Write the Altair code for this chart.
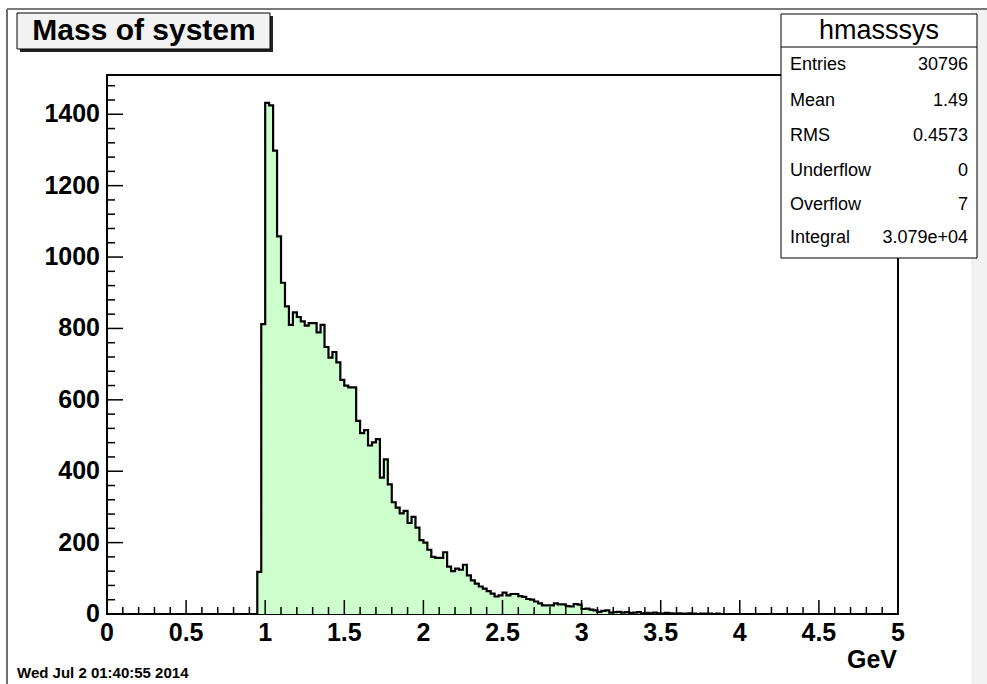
import altair as alt
import pandas as pd

# ---------------- data ----------------
bin_width = 0.025
first_bin_low = 0.95
n_bins = 200
x_min, x_max = 0.0, 5.0
y_max = 1510

counts = [
    118, 812, 1432, 1425, 1298, 1058, 928, 862, 810, 845,
    832, 820, 808, 815, 815, 789, 810, 748, 718, 734,
    705, 656, 640, 635, 635, 541, 507, 515, 472, 481,
    490, 382, 433, 363, 313, 298, 282, 289, 255, 272,
    242, 207, 200, 180, 160, 157, 157, 173, 133, 120,
    127, 124, 138, 108, 94, 85, 77, 71, 64, 57,
    49, 52, 60, 52, 56, 56, 50, 48, 42, 40,
    35, 30, 24, 24, 24, 30, 27, 27, 22, 21,
    28, 26, 14, 15, 12, 10, 6, 9, 10, 4,
    5, 6, 4, 5, 3, 4, 5, 2, 3, 2,
    4, 2, 1, 3, 2, 1, 2, 1, 1, 2,
    1, 0, 1, 1, 1, 0, 1,
]

x_labels = [0, 0.5, 1, 1.5, 2, 2.5, 3, 3.5, 4, 4.5, 5]
x_minor = [i / 10 for i in range(51)]
y_labels = [0, 200, 400, 600, 800, 1000, 1200, 1400]
y_minor = [i * 40 for i in range(38)]

title_text = "Mass of system"
stats_name = "hmasssys"
stats_labels = ["Entries", "Mean", "RMS", "Underflow", "Overflow", "Integral"]
stats_values = ["30796", "1.49", "0.4573", "0", "7", "3.079e+04"]
date_text = "Wed Jul  2 01:40:55 2014"
x_unit = "GeV"

# ---------------- layout ----------------
W, H = 791, 539
PAD_L, PAD_T = 107, 75
FONT = "Liberation Sans"

first_idx = int(round(first_bin_low / bin_width))
rows = []
for i in range(n_bins):
    j = i - first_idx
    c = counts[j] if 0 <= j < len(counts) else 0
    rows.append({"x": i * bin_width, "count": c})
rows.append({"x": n_bins * bin_width, "count": rows[-1]["count"]})
hist = pd.DataFrame(rows)

xs = alt.Scale(domain=[x_min, x_max], nice=False, zero=False)
ys = alt.Scale(domain=[0, y_max], nice=False)

area = alt.Chart(hist).mark_area(interpolate="step-after", color="#ccffcc").encode(
    x=alt.X("x:Q", scale=xs, axis=None),
    y=alt.Y("count:Q", scale=ys, axis=None),
)
line = alt.Chart(hist).mark_line(interpolate="step-after", color="black", strokeWidth=2.2).encode(
    x=alt.X("x:Q", scale=xs, axis=None),
    y=alt.Y("count:Q", scale=ys, axis=None),
)

def xticks(vals, length):
    df = pd.DataFrame({"v": vals})
    return alt.Chart(df).mark_rule(color="black", strokeWidth=1.5).encode(
        x=alt.X("v:Q", scale=xs, axis=None), y=alt.value(H), y2=alt.value(H - length))

def yticks(vals, length):
    df = pd.DataFrame({"v": vals})
    return alt.Chart(df).mark_rule(color="black", strokeWidth=1.5).encode(
        y=alt.Y("v:Q", scale=ys, axis=None), x=alt.value(0), x2=alt.value(length))

x_lab_layer = alt.Chart(pd.DataFrame({"v": x_labels})).mark_text(
    font=FONT, fontSize=25, fontWeight="bold", align="center", baseline="middle", color="black"
).encode(x=alt.X("v:Q", scale=xs, axis=None), y=alt.value(H + 19),
         text=alt.Text("v:Q", format="~g"))

y_lab_layer = alt.Chart(pd.DataFrame({"v": y_labels})).mark_text(
    font=FONT, fontSize=25, fontWeight="bold", align="right", baseline="middle", color="black"
).encode(y=alt.Y("v:Q", scale=ys, axis=None), x=alt.value(-7),
         text=alt.Text("v:Q", format="d"))

one = pd.DataFrame({"a": [0]})

def rect(x1, x2, y1, y2, fill, stroke=None, sw=1):
    kw = dict(fill=fill)
    if stroke:
        kw.update(stroke=stroke, strokeWidth=sw)
    else:
        kw.update(strokeWidth=0)
    return alt.Chart(one).mark_rect(**kw).encode(
        x=alt.value(x1), x2=alt.value(x2), y=alt.value(y1), y2=alt.value(y2))

def text(t, x, y, size, weight="normal", align="left", baseline="middle"):
    return alt.Chart(one).mark_text(text=t, font=FONT, fontSize=size, fontWeight=weight,
                                    align=align, baseline=baseline, color="black").encode(
        x=alt.value(x), y=alt.value(y))

def hline(x1, x2, y, color="black", sw=1):
    return alt.Chart(one).mark_rule(color=color, strokeWidth=sw).encode(
        x=alt.value(x1), x2=alt.value(x2), y=alt.value(y))

def vline(x, y1, y2, color="black", sw=1):
    return alt.Chart(one).mark_rule(color=color, strokeWidth=sw).encode(
        x=alt.value(x), y=alt.value(y1), y2=alt.value(y2))

layers = [
    area, line,
    xticks([v for v in x_minor if v not in x_labels], 7),
    xticks(x_labels, 14),
    yticks([v for v in y_minor if v not in y_labels], 8),
    yticks(y_labels, 16),
    x_lab_layer, y_lab_layer,
    # canvas border lines and right strip
    vline(-100, -66, H + 70, color="#6e6e6e", sw=2),
    hline(-100, W + 89, -66, color="#7a7a7a", sw=2),
    rect(W + 73, W + 89, -65, H + 70, "#f1f1f1"),
    # title box
    rect(-87, 166, -59, -23, "#222222"),
    rect(-90, 163, -62, -26, "#f2f2f2", stroke="black", sw=1),
    text(title_text, 37, -44, 30, weight="bold", align="center"),
    # stats box
    rect(674, 870, -61, 183, "white", stroke="black", sw=1),
    hline(674, 870, -28),
    text(stats_name, 772, -44, 27, align="center"),
    # bottom texts
    text(x_unit, 790, 585, 25, weight="bold", align="right"),
    text(date_text, -90, 598, 15, weight="bold"),
]
row_y = [-10, 26, 61, 96, 130, 163]
for lab, val, yy in zip(stats_labels, stats_values, row_y):
    layers.append(text(lab, 683, yy, 18))
    layers.append(text(val, 861, yy, 18, align="right"))

chart = alt.layer(*layers).properties(
    width=W, height=H,
    autosize=alt.AutoSizeParams(type="none"),
    padding={"left": PAD_L, "top": PAD_T, "right": 987 - PAD_L - W, "bottom": 684 - PAD_T - H},
    background="white",
).configure_view(stroke="black", strokeWidth=2)

chart.save("out.html", embed_options={"renderer": "svg", "actions": False})
